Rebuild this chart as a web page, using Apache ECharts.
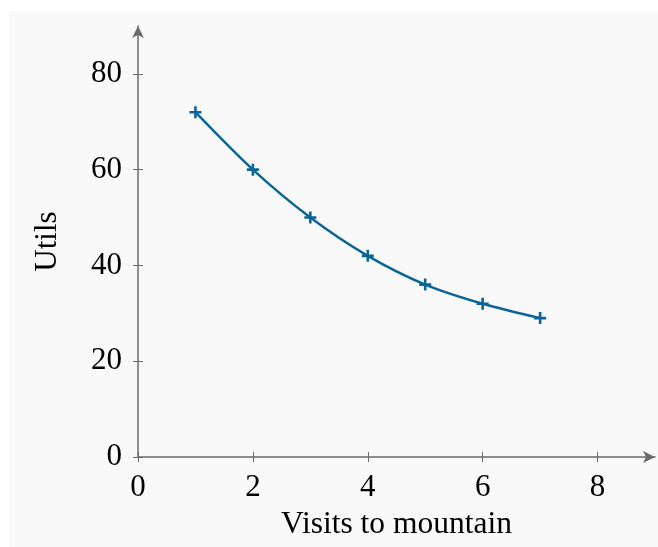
<!DOCTYPE html>
<html>
<head>
<meta charset="utf-8">
<script src="https://cdn.jsdelivr.net/npm/echarts@6/dist/echarts.min.js"></script>
<style>
  html, body { margin: 0; padding: 0; background: #ffffff; }
  #container { position: absolute; left: 9px; top: 11px; width: 649px; height: 536px; }
</style>
</head>
<body>
<div id="container"></div>
<script>
var visits = [1, 2, 3, 4, 5, 6, 7];
var utils = [72, 60, 50, 42, 36, 32, 29];
var xTicks = [0, 2, 4, 6, 8];
var yTicks = [0, 20, 40, 60, 80];

var myChart = echarts.init(document.getElementById('container'));
var font = '"Liberation Serif", "DejaVu Serif", serif';
var axisColor = '#6a6a6a';

var points = visits.map(function (v, i) { return [v, utils[i]]; });

var option = {
    backgroundColor: '#f9f9f9',
    animation: false,
    grid: { left: 129, top: 15, width: 517, height: 431 },
    xAxis: [{
        type: 'value',
        min: 0,
        max: 9,
        position: 'bottom',
        name: 'Visits to mountain',
        nameLocation: 'middle',
        nameGap: 52,
        nameTextStyle: { fontFamily: font, fontSize: 31.5, color: '#000' },
        axisLine: { lineStyle: { color: axisColor, width: 1.5 }, symbol: ['none', 'arrow'], symbolSize: [9, 12] },
        axisTick: { customValues: xTicks, length: 5, lineStyle: { color: axisColor } },
        axisLabel: { customValues: xTicks, fontFamily: font, fontSize: 31, color: '#000', margin: 15 },
        splitLine: { show: false }
    }, {
        type: 'value',
        min: 0,
        max: 9,
        position: 'bottom',
        axisLine: { show: false },
        axisTick: { customValues: xTicks, inside: true, length: 5, lineStyle: { color: axisColor } },
        axisLabel: { show: false },
        splitLine: { show: false }
    }],
    yAxis: [{
        type: 'value',
        min: 0,
        max: 90,
        position: 'left',
        name: 'Utils',
        nameLocation: 'middle',
        nameGap: 75,
        nameTextStyle: { fontFamily: font, fontSize: 31, color: '#000' },
        axisLine: { show: true, lineStyle: { color: axisColor, width: 1.5 }, symbol: ['none', 'arrow'], symbolSize: [9, 12] },
        axisTick: { show: true, customValues: yTicks, length: 5, lineStyle: { color: axisColor } },
        axisLabel: { customValues: yTicks, fontFamily: font, fontSize: 31, color: '#000', margin: 16 },
        splitLine: { show: false }
    }, {
        type: 'value',
        min: 0,
        max: 90,
        position: 'left',
        axisLine: { show: false },
        axisTick: { show: true, customValues: yTicks, inside: true, length: 5, lineStyle: { color: axisColor } },
        axisLabel: { show: false },
        splitLine: { show: false }
    }],
    series: [{
        type: 'line',
        data: points,
        smooth: 0.3,
        symbol: 'path://M-1.3,-6H1.3V-1.3H6V1.3H1.3V6H-1.3V1.3H-6V-1.3H-1.3Z',
        symbolSize: 12,
        showSymbol: true,
        lineStyle: { color: '#0a6596', width: 2.4 },
        itemStyle: { color: '#0a6596' }
    }]
};

myChart.setOption(option);
</script>
</body>
</html>
